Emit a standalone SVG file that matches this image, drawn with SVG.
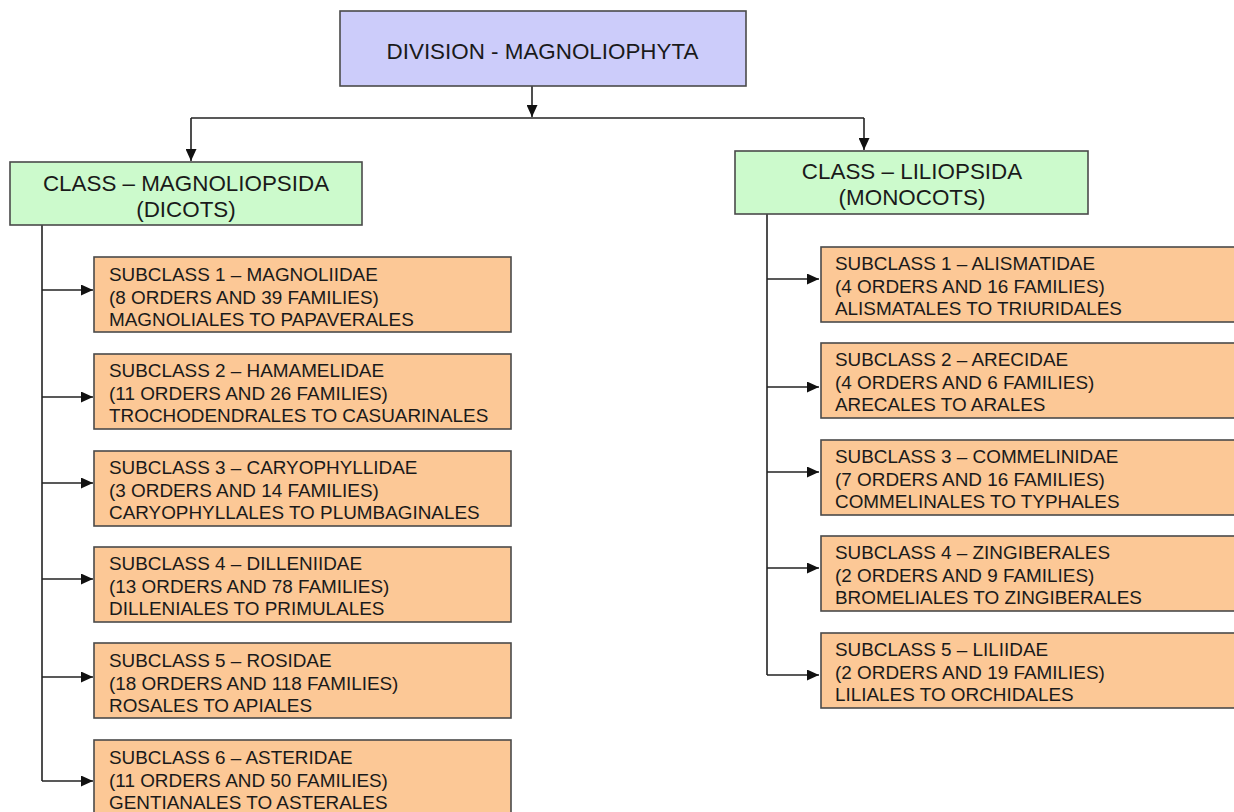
<svg xmlns="http://www.w3.org/2000/svg" width="1234" height="812" viewBox="0 0 1234 812">
<style>
text{font-family:"Liberation Sans",Arial,sans-serif;fill:#1a1a1a}
.box{stroke:#4a4a4a;stroke-width:1.6}
.div{fill:#ccccfa}
.cls{fill:#ccfacc}
.sub{fill:#fcc896}
.big{font-size:22.4px}
.sm{font-size:18.9px}
.con{fill:none;stroke:#222;stroke-width:1.6}
</style>
<defs>
<marker id="ah" markerUnits="userSpaceOnUse" markerWidth="13" markerHeight="11" refX="12" refY="5.5" orient="auto">
<path d="M0,0 L12,5.5 L0,11 z" fill="#111"/>
</marker>
</defs>
<rect width="1234" height="812" fill="#fff"/>
<g id="connectors" class="con">
<path d="M532,86 V117" marker-end="url(#ah)"/>
<path d="M191,118 H864"/>
<path d="M191,118 V161" marker-end="url(#ah)"/>
<path d="M864,118 V150" marker-end="url(#ah)"/>
<path d="M42,225 V781"/>
<path d="M42,290 H93" marker-end="url(#ah)"/>
<path d="M42,397 H93" marker-end="url(#ah)"/>
<path d="M42,483 H93" marker-end="url(#ah)"/>
<path d="M42,579 H93" marker-end="url(#ah)"/>
<path d="M42,677 H93" marker-end="url(#ah)"/>
<path d="M42,781 H93" marker-end="url(#ah)"/>
<path d="M767,214 V675"/>
<path d="M767,279 H819" marker-end="url(#ah)"/>
<path d="M767,387 H819" marker-end="url(#ah)"/>
<path d="M767,472 H819" marker-end="url(#ah)"/>
<path d="M767,568 H819" marker-end="url(#ah)"/>
<path d="M767,675 H819" marker-end="url(#ah)"/>
</g>
<g id="division">
<rect class="box div" x="340" y="11" width="406" height="75"/>
<text class="big" x="542.5" y="59" text-anchor="middle">DIVISION - MAGNOLIOPHYTA</text>
</g>
<g id="class-magnoliopsida">
<rect class="box cls" x="10" y="162" width="352" height="63"/>
<text class="big" x="186" y="191" text-anchor="middle">CLASS – MAGNOLIOPSIDA</text>
<text class="big" x="186" y="217" text-anchor="middle">(DICOTS)</text>
</g>
<g id="class-liliopsida">
<rect class="box cls" x="735" y="151" width="353" height="63"/>
<text class="big" x="912" y="179" text-anchor="middle">CLASS – LILIOPSIDA</text>
<text class="big" x="912" y="205" text-anchor="middle">(MONOCOTS)</text>
</g>
<g id="dicot-1">
<rect class="box sub" x="94" y="257" width="417" height="75"/>
<text class="sm" x="109" y="281">SUBCLASS 1 – MAGNOLIIDAE</text>
<text class="sm" x="109" y="304">(8 ORDERS AND 39 FAMILIES)</text>
<text class="sm" x="109" y="326">MAGNOLIALES TO PAPAVERALES</text>
</g>
<g id="dicot-2">
<rect class="box sub" x="94" y="354" width="417" height="75"/>
<text class="sm" x="109" y="377">SUBCLASS 2 – HAMAMELIDAE</text>
<text class="sm" x="109" y="400">(11 ORDERS AND 26 FAMILIES)</text>
<text class="sm" x="109" y="422">TROCHODENDRALES TO CASUARINALES</text>
</g>
<g id="dicot-3">
<rect class="box sub" x="94" y="451" width="417" height="75"/>
<text class="sm" x="109" y="474">SUBCLASS 3 – CARYOPHYLLIDAE</text>
<text class="sm" x="109" y="497">(3 ORDERS AND 14 FAMILIES)</text>
<text class="sm" x="109" y="519">CARYOPHYLLALES TO PLUMBAGINALES</text>
</g>
<g id="dicot-4">
<rect class="box sub" x="94" y="547" width="417" height="75"/>
<text class="sm" x="109" y="570">SUBCLASS 4 – DILLENIIDAE</text>
<text class="sm" x="109" y="593">(13 ORDERS AND 78 FAMILIES)</text>
<text class="sm" x="109" y="615">DILLENIALES TO PRIMULALES</text>
</g>
<g id="dicot-5">
<rect class="box sub" x="94" y="643" width="417" height="75"/>
<text class="sm" x="109" y="667">SUBCLASS 5 – ROSIDAE</text>
<text class="sm" x="109" y="690">(18 ORDERS AND 118 FAMILIES)</text>
<text class="sm" x="109" y="712">ROSALES TO APIALES</text>
</g>
<g id="dicot-6">
<rect class="box sub" x="94" y="740" width="417" height="80"/>
<text class="sm" x="109" y="764">SUBCLASS 6 – ASTERIDAE</text>
<text class="sm" x="109" y="787">(11 ORDERS AND 50 FAMILIES)</text>
<text class="sm" x="109" y="809">GENTIANALES TO ASTERALES</text>
</g>
<g id="monocot-1">
<rect class="box sub" x="821" y="247" width="420" height="75"/>
<text class="sm" x="835" y="270">SUBCLASS 1 – ALISMATIDAE</text>
<text class="sm" x="835" y="293">(4 ORDERS AND 16 FAMILIES)</text>
<text class="sm" x="835" y="315">ALISMATALES TO TRIURIDALES</text>
</g>
<g id="monocot-2">
<rect class="box sub" x="821" y="343" width="420" height="75"/>
<text class="sm" x="835" y="366">SUBCLASS 2 – ARECIDAE</text>
<text class="sm" x="835" y="389">(4 ORDERS AND 6 FAMILIES)</text>
<text class="sm" x="835" y="411">ARECALES TO ARALES</text>
</g>
<g id="monocot-3">
<rect class="box sub" x="821" y="440" width="420" height="75"/>
<text class="sm" x="835" y="463">SUBCLASS 3 – COMMELINIDAE</text>
<text class="sm" x="835" y="486">(7 ORDERS AND 16 FAMILIES)</text>
<text class="sm" x="835" y="508">COMMELINALES TO TYPHALES</text>
</g>
<g id="monocot-4">
<rect class="box sub" x="821" y="536" width="420" height="75"/>
<text class="sm" x="835" y="559">SUBCLASS 4 – ZINGIBERALES</text>
<text class="sm" x="835" y="582">(2 ORDERS AND 9 FAMILIES)</text>
<text class="sm" x="835" y="604">BROMELIALES TO ZINGIBERALES</text>
</g>
<g id="monocot-5">
<rect class="box sub" x="821" y="633" width="420" height="75"/>
<text class="sm" x="835" y="656">SUBCLASS 5 – LILIIDAE</text>
<text class="sm" x="835" y="679">(2 ORDERS AND 19 FAMILIES)</text>
<text class="sm" x="835" y="701">LILIALES TO ORCHIDALES</text>
</g>
</svg>
